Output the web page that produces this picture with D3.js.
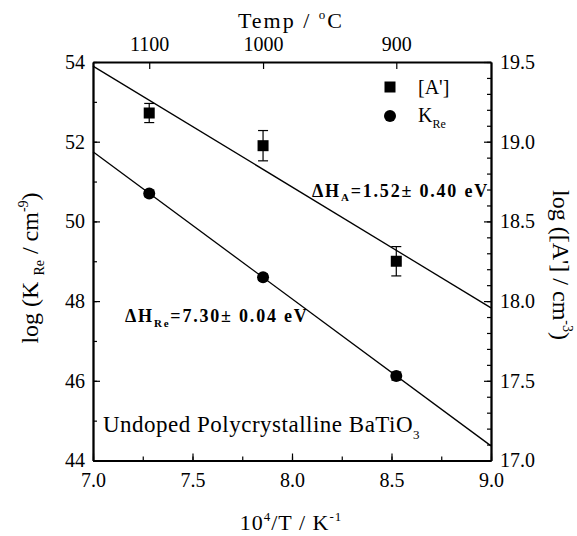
<!DOCTYPE html>
<html>
<head>
<meta charset="utf-8">
<script src="https://cdn.jsdelivr.net/npm/d3@7"></script>
<style>
  body { margin: 0; background: #fff; }
</style>
</head>
<body>
<svg id="chart" width="577" height="536"></svg>
<script>
// Measurement temperatures (°C) and the reciprocal-temperature abscissa
const tempsC = [1100, 1000, 900];
const invT = tempsC.map(t => 1e4 / (t + 273.15));

// Equilibrium constant K_Re (left axis) with error half-widths
const logK = [50.70, 48.60, 46.12];
const logKErr = [0.08, 0.08, 0.10];

// Acceptor concentration [A'] (right axis) with error half-widths
const logA = [19.18, 18.975, 18.25];
const logAErr = [0.06, 0.095, 0.092];

// Tick labels
const xTicks = [7.0, 7.5, 8.0, 8.5, 9.0];
const yLeftTicks = [44, 46, 48, 50, 52, 54];
const yRightTicks = [17.0, 17.5, 18.0, 18.5, 19.0, 19.5];

const SERIF = "'Liberation Serif', 'Times New Roman', Times, 'DejaVu Serif', serif";

const svg = d3.select("#chart").style("font-family", SERIF);
const L = 93, R = 491, T = 62, B = 460.5;

const x = d3.scaleLinear().domain([7, 9]).range([L, R]);
const yL = d3.scaleLinear().domain([44, 54]).range([B, T]);
const yR = d3.scaleLinear().domain([17, 19.5]).range([B, T]);

// least-squares line through a series
function fit(xs, ys) {
  const mx = d3.mean(xs), my = d3.mean(ys);
  let sxy = 0, sxx = 0;
  xs.forEach((v, i) => { sxy += (v - mx) * (ys[i] - my); sxx += (v - mx) ** 2; });
  const m = sxy / sxx;
  return xv => my + m * (xv - mx);
}

const fmt1 = d3.format(".1f");

// ---- axes ----
function styleAxis(g) {
  g.attr("font-family", null).attr("font-size", null);
  g.selectAll(".domain").attr("stroke", "#000").attr("stroke-width", 1.8);
  g.selectAll(".tick line").attr("stroke", "#000").attr("stroke-width", 1.2);
  g.selectAll(".tick text").style("font-family", SERIF).style("font-size", "20px").attr("fill", "#000");
}

// bottom
svg.append("g").attr("transform", `translate(0,${B})`)
  .call(d3.axisBottom(x).tickValues(d3.range(7, 9.001, 0.25)).tickSize(-4).tickFormat("").tickSizeOuter(0))
  .call(styleAxis);
svg.append("g").attr("transform", `translate(0,${B})`)
  .call(d3.axisBottom(x).tickValues(xTicks).tickSize(-7).tickPadding(12).tickFormat(fmt1).tickSizeOuter(0))
  .call(styleAxis);

// top (temperature)
svg.append("g").attr("transform", `translate(0,${T})`)
  .call(d3.axisTop(x).tickValues(invT).tickSize(-7).tickPadding(11)
    .tickFormat((d, i) => tempsC[i]).tickSizeOuter(0))
  .call(styleAxis);

// left
svg.append("g").attr("transform", `translate(${L},0)`)
  .call(d3.axisLeft(yL).tickValues(d3.range(44, 54.001, 1)).tickSize(-4).tickFormat("").tickSizeOuter(0))
  .call(styleAxis);
svg.append("g").attr("transform", `translate(${L},0)`)
  .call(d3.axisLeft(yL).tickValues(yLeftTicks).tickSize(-7).tickPadding(8).tickSizeOuter(0))
  .call(styleAxis);

// right
svg.append("g").attr("transform", `translate(${R},0)`)
  .call(d3.axisRight(yR).tickValues(d3.range(17, 19.501, 0.1)).tickSize(-4).tickFormat("").tickSizeOuter(0))
  .call(styleAxis);
svg.append("g").attr("transform", `translate(${R},0)`)
  .call(d3.axisRight(yR).tickValues(yRightTicks).tickSize(-7).tickPadding(9).tickFormat(fmt1).tickSizeOuter(0))
  .call(styleAxis);

// ---- fit lines ----
const plot = svg.append("g");
const fK = fit(invT, logK), fA = fit(invT, logA);
const line = d3.line();
plot.append("path")
  .attr("d", line([[x(7), yL(fK(7))], [x(9), yL(fK(9))]]))
  .attr("stroke", "#000").attr("stroke-width", 1.3).attr("fill", "none");
plot.append("path")
  .attr("d", line([[x(7), yR(fA(7))], [x(9), yR(fA(9))]]))
  .attr("stroke", "#000").attr("stroke-width", 1.3).attr("fill", "none");

// ---- error bars ----
function errorBars(ys, errs, yScale) {
  invT.forEach((xv, i) => {
    const cx = x(xv), y0 = yScale(ys[i] - errs[i]), y1 = yScale(ys[i] + errs[i]);
    plot.append("line").attr("x1", cx).attr("x2", cx).attr("y1", y0).attr("y2", y1)
      .attr("stroke", "#000").attr("stroke-width", 1.2);
    [y0, y1].forEach(yy => plot.append("line")
      .attr("x1", cx - 5).attr("x2", cx + 5).attr("y1", yy).attr("y2", yy)
      .attr("stroke", "#000").attr("stroke-width", 1.2));
  });
}
errorBars(logA, logAErr, yR);
errorBars(logK, logKErr, yL);

// ---- markers ----
plot.selectAll(".sq").data(logA).join("rect")
  .attr("x", (d, i) => x(invT[i]) - 5.5).attr("y", d => yR(d) - 5.5)
  .attr("width", 11).attr("height", 11).attr("fill", "#000");
plot.selectAll(".ci").data(logK).join("circle")
  .attr("cx", (d, i) => x(invT[i])).attr("cy", d => yL(d)).attr("r", 6).attr("fill", "#000");

// ---- legend ----
svg.append("rect").attr("x", 384.5).attr("y", 81.5).attr("width", 11).attr("height", 11).attr("fill", "#000");
svg.append("text").attr("x", 418).attr("y", 94).style("font-size", "20px").text("[A']");
svg.append("circle").attr("cx", 390).attr("cy", 116).attr("r", 6).attr("fill", "#000");
const kl = svg.append("text").attr("x", 418).attr("y", 122).style("font-size", "20px");
kl.append("tspan").text("K");
kl.append("tspan").attr("dy", 6).style("font-size", "12px").text("Re");

// ---- annotations ----
const hA = svg.append("text").attr("x", 489).attr("y", 197).attr("text-anchor", "end")
  .style("font-size", "18px").style("font-weight", "bold").style("letter-spacing", "1.8px");
hA.append("tspan").text("ΔH");
hA.append("tspan").attr("dy", 4).style("font-size", "11px").text("A");
hA.append("tspan").attr("dy", -4).text("=1.52± 0.40 eV");

const hK = svg.append("text").attr("x", 125).attr("y", 322)
  .style("font-size", "18px").style("font-weight", "bold").style("letter-spacing", "1.8px");
hK.append("tspan").text("ΔH");
hK.append("tspan").attr("dy", 5).style("font-size", "11px").text("Re");
hK.append("tspan").attr("dy", -5).text("=7.30± 0.04 eV");

const ann = svg.append("text").attr("x", 103).attr("y", 432).style("font-size", "23px").style("letter-spacing", "0.5px");
ann.append("tspan").text("Undoped Polycrystalline BaTiO");
ann.append("tspan").attr("dy", 7).style("font-size", "13px").text("3");

// ---- axis titles ----
const tt = svg.append("text").attr("x", 291).attr("y", 28).attr("text-anchor", "middle")
  .style("font-size", "22px").style("letter-spacing", "2px");
tt.append("tspan").text("Temp / ");
tt.append("tspan").attr("dy", -9).style("font-size", "13px").text("o");
tt.append("tspan").attr("dy", 9).text("C");

const bt = svg.append("text").attr("x", 291).attr("y", 530).attr("text-anchor", "middle")
  .style("font-size", "22px").style("letter-spacing", "1px");
bt.append("tspan").text("10");
bt.append("tspan").attr("dy", -9).style("font-size", "13px").text("4");
bt.append("tspan").attr("dy", 9).text("/T / K");
bt.append("tspan").attr("dy", -9).style("font-size", "13px").text("-1");

const lt = svg.append("text").attr("transform", "translate(38,268) rotate(-90)").attr("text-anchor", "middle")
  .style("font-size", "24px");
lt.append("tspan").text("log (K ");
lt.append("tspan").attr("dy", 6).style("font-size", "14px").text("Re");
lt.append("tspan").attr("dy", -6).text(" / cm");
lt.append("tspan").attr("dy", -10).style("font-size", "14px").text("-9");
lt.append("tspan").attr("dy", 10).text(")");

const rt = svg.append("text").attr("transform", "translate(553,265) rotate(90)").attr("text-anchor", "middle")
  .style("font-size", "24px");
rt.append("tspan").text("log ([A'] / cm");
rt.append("tspan").attr("dy", -10).style("font-size", "14px").text("-3");
rt.append("tspan").attr("dy", 10).text(")");
</script>
</body>
</html>
